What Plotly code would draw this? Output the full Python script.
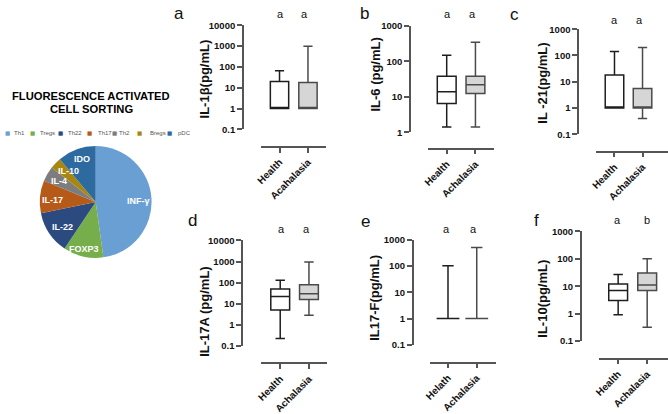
import plotly.graph_objects as go

W, H = 668, 414

# ---------------- data ----------------
pie_groups = ["Th1", "Tregs", "Th22", "Th17", "Th2", "Bregs", "pDC"]
pie_markers = ["INF-γ", "FOXP3", "IL-22", "IL-17", "IL-4", "IL-10", "IDO"]
pie_share = [47.8, 11.6, 12.4, 9.4, 4.4, 3.3, 11.1]
pie_colors = ["#6a9fd3", "#76ae4c", "#2b4a80", "#b65a1a", "#7d7d7d", "#a88610", "#2d6a9f"]

groups_a = ["Health", "Acahalasia"]
groups = ["Health", "Achalasia"]
groups_e = ["Helath", "Achalasia"]

il1b_low = [1, 1];     il1b_q1 = [1, 1];      il1b_med = [1, 1];    il1b_q3 = [20, 18];  il1b_up = [65, 1000]
il6_low = [1.4, 1.4];  il6_q1 = [6.5, 12.5];  il6_med = [14, 22];   il6_q3 = [38, 38];   il6_up = [150, 350]
il21_low = [1, 0.4];   il21_q1 = [1, 1];      il21_med = [1, 1];    il21_q3 = [18, 5.5]; il21_up = [140, 200]
il17a_low = [0.22, 2.8]; il17a_q1 = [5, 16];  il17a_med = [22, 30]; il17a_q3 = [50, 80]; il17a_up = [130, 950]
il17f_low = [1, 1];    il17f_q1 = [1, 1];     il17f_med = [1, 1];   il17f_q3 = [1, 1];   il17f_up = [100, 500]
il10_low = [0.9, 0.32]; il10_q1 = [3, 7];     il10_med = [7, 11];   il10_q3 = [12, 30];  il10_up = [27, 100]

sig_a = ["a", "a"]; sig_b = ["a", "a"]; sig_c = ["a", "a"]
sig_d = ["a", "a"]; sig_e = ["a", "a"]; sig_f = ["a", "b"]

# ---------------- layout geometry (pixels) ----------------
panels = [
    dict(letter="a", title="IL-1β(pg/mL)", cats=groups_a, stats=(il1b_low, il1b_q1, il1b_med, il1b_q3, il1b_up), sig=sig_a,
         yexp=(-1, 4), ytop=20, ybot=127.7, yax=239, xay=145.7, xL=257.7, xR=323.3, h=276, c=304.7,
         lab=(174.5, 8), tit=(200, 75.8), sigy=8, sigx=(276.7, 301.7), bw=18.5),
    dict(letter="b", title="IL-6 (pg/mL)", cats=groups, stats=(il6_low, il6_q1, il6_med, il6_q3, il6_up), sig=sig_b,
         yexp=(0, 3), ytop=20.7, ybot=130.7, yax=407.7, xay=147.7, xL=426, xR=492.7, h=444.7, c=473.7,
         lab=(362, 8), tit=(372.5, 70.8), sigy=8.5, sigx=(445, 470.5), bw=19),
    dict(letter="c", title="IL -21(pg/mL)", cats=groups, stats=(il21_low, il21_q1, il21_med, il21_q3, il21_up), sig=sig_c,
         yexp=(-1, 3), ytop=24, ybot=132.7, yax=577.3, xay=150.7, xL=595.7, xR=668, h=614, c=642.3,
         lab=(513, 9), tit=(541.3, 80), sigy=14, sigx=(614, 639), bw=18.7),
    dict(letter="d", title="IL-17A (pg/mL)", cats=groups, stats=(il17a_low, il17a_q1, il17a_med, il17a_q3, il17a_up), sig=sig_d,
         yexp=(-1, 4), ytop=242.7, ybot=351.7, yax=238.3, xay=370, xL=257.7, xR=324.3, h=276.7, c=305.7,
         lab=(188, 222), tit=(199.5, 315.8), sigy=231, sigx=(278.5, 303.5), bw=19),
    dict(letter="e", title="IL17-F(pg/mL)", cats=groups_e, stats=(il17f_low, il17f_q1, il17f_med, il17f_q3, il17f_up), sig=sig_e,
         yexp=(-1, 3), ytop=241.7, ybot=350.7, yax=410.3, xay=369, xL=427.7, xR=494, h=446, c=475,
         lab=(362.5, 223), tit=(371.7, 301.7), sigy=231, sigx=(444, 471.5), bw=23),
    dict(letter="f", title="IL-10(pg/mL)", cats=groups, stats=(il10_low, il10_q1, il10_med, il10_q3, il10_up), sig=sig_f,
         yexp=(-1, 3), ytop=233.3, ybot=346.7, yax=580, xay=365, xL=598.3, xR=668, h=617.7, c=647,
         lab=(535, 222), tit=(540.5, 303.3), sigy=221, sigx=(617.5, 646.5), bw=19),
]

FONT = "Liberation Sans, Arial, sans-serif"
AX_COL = "#555555"
line_cols = ["#1e1e1e", "#4a4a4a"]
fill_cols = ["#ffffff", "#d6d6d6"]

fig = go.Figure()
annotations = []

def px_x(x):
    return x / W

def px_y(y):
    return 1 - y / H

for i, p in enumerate(panels, start=1):
    xid = "x" if i == 1 else f"x{i}"
    yid = "y" if i == 1 else f"y{i}"
    unit = p["c"] - p["h"]
    xr = [-(p["h"] - p["xL"]) / unit, 1 + (p["xR"] - p["c"]) / unit]
    low, q1, med, q3, up = p["stats"]
    for k, cat in enumerate(p["cats"]):
        fig.add_trace(go.Box(
            x=[cat], lowerfence=[low[k]], q1=[q1[k]], median=[med[k]], q3=[q3[k]], upperfence=[up[k]],
            xaxis=xid, yaxis=yid, width=p["bw"] / unit, whiskerwidth=0.5,
            fillcolor=fill_cols[k], line=dict(color=line_cols[k], width=1.5),
            boxpoints=False, showlegend=False, hoverinfo="skip",
        ))
    lo, hi = p["yexp"]
    tv = [10 ** e for e in range(lo, hi + 1)]
    tt = [("0.1" if e == -1 else str(10 ** e)) for e in range(lo, hi + 1)]
    xa = dict(
        domain=[px_x(p["xL"]), px_x(p["xR"])], anchor="free", position=px_y(p["xay"]),
        type="category", range=xr, categoryorder="array", categoryarray=p["cats"],
        showline=True, linecolor=AX_COL, linewidth=1.5, ticks="outside", ticklen=5,
        tickcolor=AX_COL, tickwidth=1.5, tickangle=-45,
        tickfont=dict(family=FONT, size=10, color="#111111", weight="bold"),
        showgrid=False, zeroline=False, fixedrange=True,
    )
    ya = dict(
        domain=[px_y(p["ybot"]), px_y(p["ytop"])], anchor="free", position=px_x(p["yax"]),
        type="log", range=[lo, hi], tickvals=tv, ticktext=tt,
        showline=True, linecolor=AX_COL, linewidth=1.5, ticks="outside", ticklen=5,
        tickcolor=AX_COL, tickwidth=1.5,
        tickfont=dict(family=FONT, size=9.5, color="#111111", weight="bold"),
        showgrid=False, zeroline=False, fixedrange=True,
    )
    fig.layout["xaxis" if i == 1 else f"xaxis{i}"] = xa
    fig.layout["yaxis" if i == 1 else f"yaxis{i}"] = ya

    annotations.append(dict(text=p["letter"], x=px_x(p["lab"][0]), y=px_y(p["lab"][1]), xref="paper", yref="paper",
                            showarrow=False, xanchor="center", yanchor="middle",
                            font=dict(family=FONT, size=17, color="#111111")))
    annotations.append(dict(text=p["title"], x=px_x(p["tit"][0]), y=px_y(p["tit"][1]), xref="paper", yref="paper",
                            showarrow=False, textangle=-90, xanchor="center", yanchor="middle",
                            font=dict(family=FONT, size=13, color="#111111", weight="bold")))
    for k, s in enumerate(p["sig"]):
        annotations.append(dict(text=s, x=px_x(p["sigx"][k]), y=px_y(p["sigy"]), xref="paper", yref="paper",
                                showarrow=False, xanchor="center", yanchor="middle",
                                font=dict(family=FONT, size=11, color="#111111")))

# ---------------- pie ----------------
fig.add_trace(go.Pie(
    labels=pie_groups, values=pie_share, sort=False, direction="clockwise", rotation=0,
    marker=dict(colors=pie_colors, line=dict(width=0)), textinfo="none", showlegend=False,
    domain=dict(x=[px_x(32.7), px_x(148.3)], y=[px_y(260.7), px_y(145)]), hoverinfo="label+percent",
))

slice_label_pos = [(133.3, 201.7), (78.3, 251), (56.7, 228.3), (46.5, 200.7), (53.3, 181.6), (62.7, 171.0), (76.7, 158.3)]
for name, (lx, ly) in zip(pie_markers, slice_label_pos):
    annotations.append(dict(text=name, x=px_x(lx), y=px_y(ly), xref="paper", yref="paper", showarrow=False,
                            xanchor="center", yanchor="middle", borderpad=0,
                            font=dict(family=FONT, size=9, color="white", weight="bold")))

annotations.append(dict(text="FLUORESCENCE ACTIVATED", x=px_x(86), y=px_y(93.5), xref="paper", yref="paper",
                        showarrow=False, xanchor="center", yanchor="middle",
                        font=dict(family=FONT, size=11.2, color="#000000", weight="bold")))
annotations.append(dict(text="CELL SORTING", x=px_x(86), y=px_y(107), xref="paper", yref="paper",
                        showarrow=False, xanchor="center", yanchor="middle",
                        font=dict(family=FONT, size=11.2, color="#000000", weight="bold")))

swatch_x = [1.3, 26.7, 55, 84, 109, 135, 165]
legend_text_x = [6.7, 33, 62, 92, 113, 144, 173]
for g, col, sx, tx in zip(pie_groups, pie_colors, swatch_x, legend_text_x):
    annotations.append(dict(text="■", x=px_x(sx), y=px_y(131), xref="paper", yref="paper", showarrow=False,
                            xanchor="center", yanchor="middle", borderpad=0,
                            font=dict(family="DejaVu Sans", size=5.5, color=col)))
    annotations.append(dict(text=g, x=px_x(tx), y=px_y(131), xref="paper", yref="paper", showarrow=False,
                            xanchor="left", yanchor="middle", borderpad=0,
                            font=dict(family=FONT, size=6, color="#555555")))

fig.update_layout(
    width=W, height=H, margin=dict(l=0, r=0, t=0, b=0), autosize=False,
    paper_bgcolor="white", plot_bgcolor="rgba(0,0,0,0)",
    annotations=annotations, showlegend=False,
    font=dict(family=FONT),
)

fig.write_html("out.html", config={"displayModeBar": False},
               post_script="document.body.style.margin='0px';document.body.style.padding='0px';")
